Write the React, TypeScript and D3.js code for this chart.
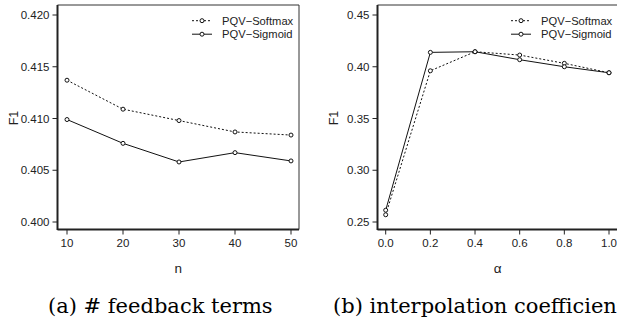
import React from "react";
import * as d3 from "d3";

// panel (a): number of feedback terms
const nValues = [10, 20, 30, 40, 50];
const nSoftmax = [0.4137, 0.4109, 0.4098, 0.4087, 0.4084];
const nSigmoid = [0.4099, 0.4076, 0.4058, 0.4067, 0.4059];
const nYTicks = [0.4, 0.405, 0.41, 0.415, 0.42];

// panel (b): interpolation coefficient
const alphaValues = [0.0, 0.2, 0.4, 0.6, 0.8, 1.0];
const alphaSoftmax = [0.257, 0.3961, 0.4145, 0.4113, 0.4033, 0.3942];
const alphaSigmoid = [0.2614, 0.4139, 0.4145, 0.4068, 0.4, 0.3942];
const alphaYTicks = [0.25, 0.3, 0.35, 0.4, 0.45];

const seriesNames = ["PQV\u2212Softmax", "PQV\u2212Sigmoid"];

const sans = "'Liberation Sans', Arial, sans-serif";
const serif = "'DejaVu Serif', serif";

interface PanelProps {
  offsetX: number;
  xs: number[];
  softmax: number[];
  sigmoid: number[];
  xDomain: [number, number];
  xRange: [number, number];
  yDomain: [number, number];
  yTicks: number[];
  xFormat: (v: number) => string;
  yFormat: (v: number) => string;
  xLabel: string;
  caption: string;
  captionX: number;
  boxRight: number;
}

const Panel: React.FC<PanelProps> = ({
  offsetX,
  xs,
  softmax,
  sigmoid,
  xDomain,
  xRange,
  yDomain,
  yTicks,
  xFormat,
  yFormat,
  xLabel,
  caption,
  captionX,
  boxRight,
}) => {
  const left = 57.5;
  const top = 5;
  const bottom = 229.5;
  const x = d3.scaleLinear().domain(xDomain).range(xRange);
  const y = d3.scaleLinear().domain(yDomain).range([222, 15]);

  const line = d3
    .line<number>()
    .x((_, i) => x(xs[i]))
    .y((d) => y(d));

  const series = [
    { vals: softmax, dash: "2,2" },
    { vals: sigmoid, dash: undefined as string | undefined },
  ];

  const legendX = boxRight - 107;

  return (
    <g transform={`translate(${offsetX},0)`}>
      {/* box */}
      <line x1={left} x2={boxRight} y1={top} y2={top} stroke="#333" strokeWidth={1} />
      <line x1={boxRight} x2={boxRight} y1={top} y2={bottom} stroke="#333" strokeWidth={1} />
      <line x1={left} x2={left} y1={top} y2={bottom + 0.5} stroke="#222" strokeWidth={2} />
      <line x1={left} x2={boxRight} y1={bottom} y2={bottom} stroke="#222" strokeWidth={2} />

      {/* y ticks */}
      {yTicks.map((t) => (
        <g key={t}>
          <line x1={left - 5} x2={left} y1={y(t)} y2={y(t)} stroke="#222" strokeWidth={1} />
          <text
            x={left - 8}
            y={y(t)}
            dy="0.35em"
            textAnchor="end"
            fontFamily={sans}
            fontSize={11.5}
            fill="#222"
          >
            {yFormat(t)}
          </text>
        </g>
      ))}

      {/* x ticks */}
      {xs.map((t) => (
        <g key={t}>
          <line x1={x(t)} x2={x(t)} y1={bottom} y2={bottom + 5} stroke="#222" strokeWidth={1} />
          <text
            x={x(t)}
            y={247}
            textAnchor="middle"
            fontFamily={sans}
            fontSize={11.5}
            fill="#222"
          >
            {xFormat(t)}
          </text>
        </g>
      ))}

      {/* axis labels */}
      <text
        transform="translate(18,118) rotate(-90)"
        textAnchor="middle"
        fontFamily={sans}
        fontSize={12.5}
        fill="#222"
      >
        F1
      </text>
      <text
        x={(left + boxRight) / 2}
        y={273}
        textAnchor="middle"
        fontFamily={sans}
        fontSize={13.5}
        fill="#222"
      >
        {xLabel}
      </text>

      {/* series */}
      {series.map((s, si) => (
        <g key={si}>
          <path
            d={line(s.vals) || ""}
            fill="none"
            stroke="#111"
            strokeWidth={1}
            strokeDasharray={s.dash}
          />
          {s.vals.map((v, i) => (
            <circle
              key={i}
              cx={x(xs[i])}
              cy={y(v)}
              r={2}
              fill="white"
              stroke="#111"
              strokeWidth={1}
            />
          ))}
        </g>
      ))}

      {/* legend */}
      {series.map((s, si) => {
        const ly = 20.7 + si * 13.5;
        return (
          <g key={si}>
            <line
              x1={legendX}
              x2={legendX + 20}
              y1={ly}
              y2={ly}
              stroke="#111"
              strokeWidth={1}
              strokeDasharray={s.dash}
            />
            <circle cx={legendX + 10} cy={ly} r={2} fill="white" stroke="#111" strokeWidth={1} />
            <text
              x={legendX + 30}
              y={ly}
              dy="0.35em"
              fontFamily={sans}
              fontSize={11.2}
              fill="#222"
            >
              {seriesNames[si]}
            </text>
          </g>
        );
      })}

      {/* caption */}
      <text x={captionX} y={313} fontFamily={serif} fontSize={21} fill="#000">
        {caption}
      </text>
    </g>
  );
};

export default function App() {
  return (
    <div style={{ position: "absolute", left: 0, top: 0 }}>
      <svg width={617} height={322} style={{ display: "block", background: "white" }}>
        <Panel
          offsetX={0}
          xs={nValues}
          softmax={nSoftmax}
          sigmoid={nSigmoid}
          xDomain={[10, 50]}
          xRange={[67, 291]}
          yDomain={[0.4, 0.42]}
          yTicks={nYTicks}
          xFormat={(v) => String(v)}
          yFormat={d3.format(".3f")}
          xLabel="n"
          caption="(a) # feedback terms"
          captionX={48}
          boxRight={299}
        />
        <Panel
          offsetX={320}
          xs={alphaValues}
          softmax={alphaSoftmax}
          sigmoid={alphaSigmoid}
          xDomain={[0, 1]}
          xRange={[65.7, 289]}
          yDomain={[0.25, 0.45]}
          yTicks={alphaYTicks}
          xFormat={d3.format(".1f")}
          yFormat={d3.format(".2f")}
          xLabel={"\u03b1"}
          caption="(b) interpolation coefficient"
          captionX={13}
          boxRight={298}
        />
      </svg>
    </div>
  );
}
